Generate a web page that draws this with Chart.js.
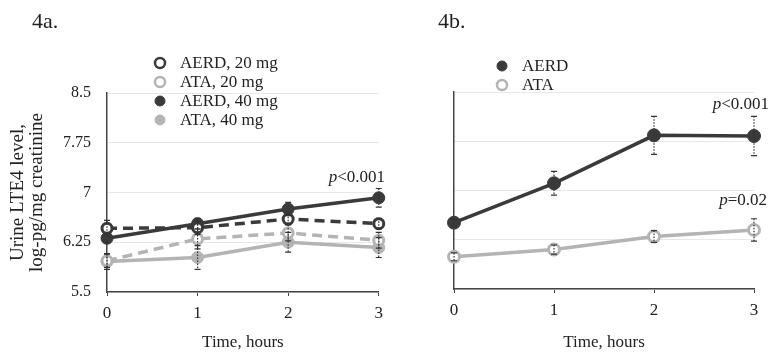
<!DOCTYPE html>
<html>
<head>
<meta charset="utf-8">
<script src="https://cdn.jsdelivr.net/npm/chart.js@4.4.1/dist/chart.umd.min.js"></script>
<style>
  html, body { margin: 0; padding: 0; background: #fff; }
  #wrap { position: relative; width: 773px; height: 358px; }
  .panel { position: absolute; top: 0; height: 358px; }
  #pa { left: 0; width: 390px; }
  #pb { left: 390px; width: 383px; }
</style>
</head>
<body>
<div id="wrap">
  <div class="panel" id="pa"><canvas id="chartA"></canvas></div>
  <div class="panel" id="pb"><canvas id="chartB"></canvas></div>
</div>
<script>
// time points and axis ticks
const hours = [0, 1, 2, 3];
const yTicks = [5.5, 6.25, 7, 7.75, 8.5];
const yTickLabels = ['5.5', '6.25', '7', '7.75', '8.5'];

// 4a. by dose
const aerd20 = [6.46, 6.47, 6.60, 6.53];
const aerd20Err = [0.12, 0.10, 0.08, 0.08];
const ata20 = [5.97, 6.30, 6.39, 6.28];
const ata20Err = [0.10, 0.15, 0.12, 0.12];
const aerd40 = [6.31, 6.53, 6.75, 6.92];
const aerd40Err = [0.07, 0.08, 0.10, 0.14];
const ata40 = [5.96, 6.02, 6.25, 6.17];
const ata40Err = [0.12, 0.18, 0.15, 0.15];

// 4b. pooled
const aerdAll = [6.51, 7.11, 7.84, 7.83];
const aerdAllErr = [0.05, 0.18, 0.29, 0.30];
const ataAll = [5.99, 6.10, 6.30, 6.40];
const ataAllErr = [0.06, 0.07, 0.09, 0.17];

const DARK = '#3a3a3a';
const GREY = '#b4b4b4';
const TEXT = '#222';
const SERIF = "'Liberation Serif', 'Times New Roman', serif";

Chart.defaults.font.family = SERIF;
Chart.defaults.color = TEXT;

function pts(vals) {
  return hours.map((h, i) => ({ x: h, y: vals[i] }));
}

function series(label, vals, errs, color, open, dashed, radius) {
  return {
    label: label,
    data: pts(vals),
    errors: errs,
    borderColor: color,
    borderWidth: 3.5,
    borderDash: dashed ? [10, 6] : [],
    pointRadius: radius,
    pointHoverRadius: radius,
    pointBackgroundColor: open ? '#fff' : color,
    pointBorderColor: color,
    pointBorderWidth: open ? 3 : 1,
    fill: false,
    tension: 0,
    clip: false
  };
}

function scalesFor(showY, yWidth, xHeight) {
  return {
    x: {
      type: 'linear', min: 0, max: 3,
      afterBuildTicks: s => { s.ticks = hours.map(v => ({ value: v })); },
      ticks: { font: { size: 17 }, color: TEXT, padding: 7, callback: v => String(v) },
      grid: { drawOnChartArea: false, drawTicks: true, tickLength: 4, color: '#444' },
      border: { color: '#444', width: 1.5 },
      title: { display: true, text: 'Time, hours', font: { size: 17 }, color: TEXT, padding: { top: 0, bottom: 5 } },
      afterFit: s => { s.height = xHeight; }
    },
    y: {
      min: 5.5, max: 8.5,
      afterBuildTicks: s => { s.ticks = yTicks.map(v => ({ value: v })); },
      ticks: { display: showY, font: { size: 16 }, color: TEXT, padding: 16, callback: (v, i) => yTickLabels[i] },
      grid: { color: '#e8e8e8', drawTicks: false },
      border: { color: '#444', width: 1.5 },
      title: {
        display: showY,
        text: ['Urine LTE4 level,', 'log-pg/mg creatinine'],
        font: { size: 19, lineHeight: 1.0 }, color: TEXT,
        padding: { top: 9, bottom: 0 }
      },
      afterFit: s => { s.width = yWidth; }
    }
  };
}

// dotted error bars with caps
const errorBars = {
  id: 'errorBars',
  afterDatasetsDraw(chart) {
    const ctx = chart.ctx;
    const ys = chart.scales.y;
    ctx.save();
    ctx.strokeStyle = '#333';
    chart.data.datasets.forEach((ds, di) => {
      const meta = chart.getDatasetMeta(di);
      meta.data.forEach((pt, i) => {
        const v = ds.data[i].y, e = ds.errors[i];
        const top = ys.getPixelForValue(v + e);
        const bot = ys.getPixelForValue(v - e);
        ctx.lineWidth = 1.2;
        ctx.setLineDash([1.5, 1.5]);
        ctx.beginPath();
        ctx.moveTo(pt.x, top);
        ctx.lineTo(pt.x, bot);
        ctx.stroke();
        ctx.setLineDash([]);
        ctx.beginPath();
        ctx.moveTo(pt.x - 3, top); ctx.lineTo(pt.x + 3, top);
        ctx.moveTo(pt.x - 3, bot); ctx.lineTo(pt.x + 3, bot);
        ctx.stroke();
      });
    });
    ctx.restore();
  }
};

// panel label, stacked legend and p-values
function decor(panelLabel, labelX, legX, legY, legDy, notes) {
  return {
    id: 'decor',
    afterDraw(chart) {
      const ctx = chart.ctx;
      ctx.save();
      ctx.fillStyle = TEXT;
      ctx.font = '22px ' + SERIF;
      ctx.textBaseline = 'alphabetic';
      ctx.textAlign = 'left';
      ctx.fillText(panelLabel, labelX, 28);

      ctx.font = '17px ' + SERIF;
      ctx.textBaseline = 'middle';
      chart.data.datasets.forEach((ds, i) => {
        const y = legY + i * legDy;
        ctx.beginPath();
        ctx.arc(legX, y, 5, 0, Math.PI * 2);
        ctx.fillStyle = ds.pointBackgroundColor;
        ctx.fill();
        ctx.lineWidth = ds.pointBorderWidth === 3 ? 2.5 : 1;
        ctx.strokeStyle = ds.pointBorderColor;
        ctx.stroke();
        ctx.fillStyle = TEXT;
        ctx.fillText(ds.label, legX + 20, y + 1);
      });

      notes.forEach(n => {
        ctx.font = '17px ' + SERIF;
        const restW = ctx.measureText(n.rest).width;
        ctx.font = 'italic 17px ' + SERIF;
        const pW = ctx.measureText('p').width;
        const x0 = n.right - restW - pW;
        ctx.fillStyle = TEXT;
        ctx.textAlign = 'left';
        ctx.fillText('p', x0, n.y);
        ctx.font = '17px ' + SERIF;
        ctx.fillText(n.rest, x0 + pW, n.y);
      });
      ctx.restore();
    }
  };
}

const chartA = new Chart(document.getElementById('chartA'), {
  type: 'line',
  data: {
    datasets: [
      series('AERD, 20 mg', aerd20, aerd20Err, DARK, true, true, 5),
      series('ATA, 20 mg', ata20, ata20Err, GREY, true, true, 5),
      series('AERD, 40 mg', aerd40, aerd40Err, DARK, false, false, 6),
      series('ATA, 40 mg', ata40, ata40Err, GREY, false, false, 6)
    ]
  },
  options: {
    responsive: true,
    maintainAspectRatio: false,
    animation: false,
    layout: { padding: { left: 0, top: 93, right: 8, bottom: 0 } },
    scales: scalesFor(true, 107, 66),
    plugins: { legend: { display: false }, tooltip: { enabled: false } }
  },
  plugins: [errorBars, decor('4a.', 32, 160, 63, 19, [{ rest: '<0.001', right: 385, y: 178 }])]
});

const chartB = new Chart(document.getElementById('chartB'), {
  type: 'line',
  data: {
    datasets: [
      series('AERD', aerdAll, aerdAllErr, DARK, false, false, 6.5),
      series('ATA', ataAll, ataAllErr, GREY, true, false, 5.5)
    ]
  },
  options: {
    responsive: true,
    maintainAspectRatio: false,
    animation: false,
    layout: { padding: { left: 0, top: 92, right: 19, bottom: 0 } },
    scales: scalesFor(false, 64, 69),
    plugins: { legend: { display: false }, tooltip: { enabled: false } }
  },
  plugins: [errorBars, decor('4b.', 48, 112, 66, 19, [
    { rest: '<0.001', right: 379, y: 105 },
    { rest: '=0.02', right: 377, y: 201 }
  ])]
});
</script>
</body>
</html>
